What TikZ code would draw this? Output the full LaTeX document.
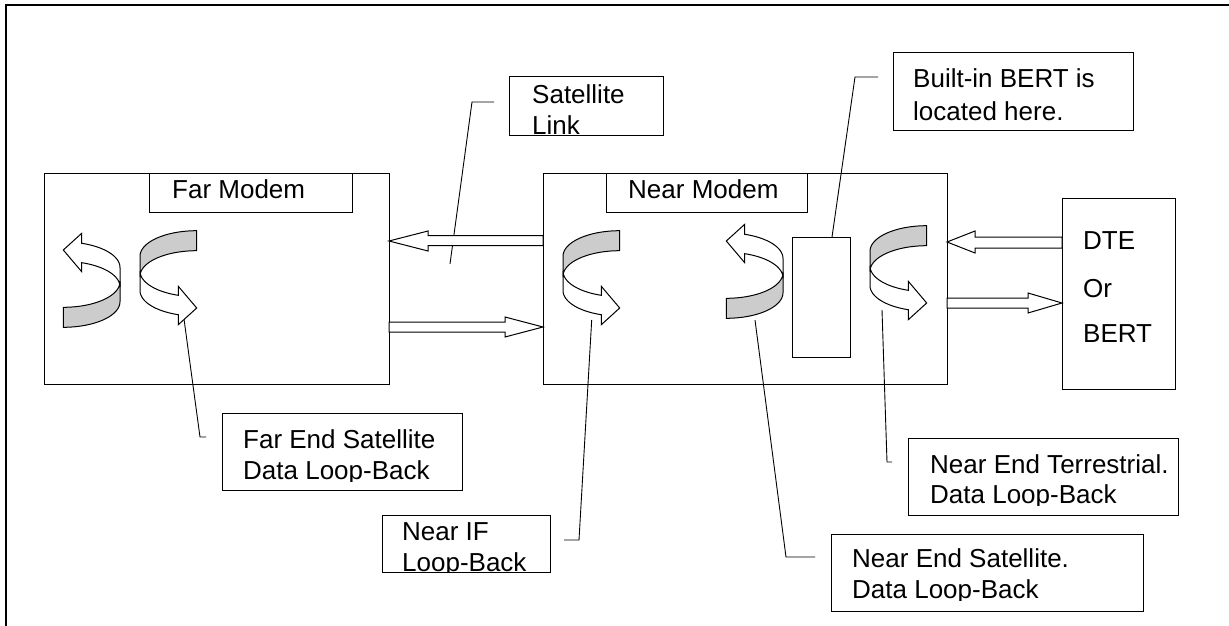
\documentclass[tikz,border=0pt]{standalone}
\usepackage{fontspec}
\setmainfont{Liberation Sans}
\definecolor{loopgray}{RGB}{204,204,204}
\begin{document}
\begin{tikzpicture}[x=1pt,y=-1pt,
  box/.style={draw, line width=1pt, inner sep=0pt, outer sep=0pt, anchor=north west},
  txt/.style={anchor=base west, inner sep=0pt, font=\fontsize{26}{31}\selectfont},
  leader/.style={line width=0.9pt},
  blockarrow/.style={draw, fill=white, line width=1pt, line join=miter},
  loopA/.pic={
    \path[fill=loopgray, draw=black, line width=1pt, line join=round]
      plot[domain=270:360, samples=30] ({23.3+56.7*cos(\x)},{61.7-25.6*sin(\x)})
      -- plot[domain=0:-90, samples=30] ({23.3+56.7*cos(\x)},{81.7-25.6*sin(\x)}) -- cycle;
    \path[fill=white, draw=black, line width=1pt, line join=miter]
      plot[domain=71.1:0, samples=30] ({23.3+56.7*cos(\x)},{47.5-25.6*sin(\x)})
      -- plot[domain=0:71.1, samples=30] ({23.3+56.7*cos(\x)},{66.9-25.6*sin(\x)})
      -- (41.7,51.7) -- (23.3,30) -- (41.7,13.3) -- cycle;
  }]
\useasboundingbox (0,0) rectangle (1229,626);
% outer frame (cropped)
\draw[line width=1.2pt] (6,626) -- (6,5) -- (1229,5);

% modem boxes
\node[box, minimum width=345, minimum height=211] (far) at (44,173) {};
\node[box, minimum width=404, minimum height=211] (near) at (543,173) {};
\node[box, minimum width=203, minimum height=39] (farlbl) at (149,173) {};
\node[box, minimum width=201, minimum height=39] (nearlbl) at (606,173) {};
\node[box, minimum width=58, minimum height=120] (bert) at (792,237) {};
\node[box, minimum width=113, minimum height=191] (dte) at (1062,198) {};

% callout boxes
\node[box, minimum width=154, minimum height=58] (sat) at (509,77) {};
\node[box, minimum width=240, minimum height=77] (built) at (893,53) {};
\node[box, minimum width=240, minimum height=77] (fesl) at (222,413) {};
\node[box, minimum width=168, minimum height=57] (nif) at (382,515) {};
\node[box, minimum width=270, minimum height=77] (netl) at (908,438) {};
\node[box, minimum width=312, minimum height=77] (nesl) at (831,534) {};

% leader lines
\coordinate (cSat) at (450,264);
\coordinate (eSat) at (494,102);
\draw[leader] (cSat) -- (472,102) -- (eSat);
\coordinate (eBuilt) at (878,77);
\draw[leader] ([xshift=11pt]bert.north) -- (855,77) -- (eBuilt);
\coordinate (cFe) at (184,319);
\coordinate (eFe) at (206,437);
\draw[leader] (cFe) -- (200,437) -- (eFe);
\coordinate (cNif) at (591.7,320);
\coordinate (eNif) at (564,540);
\draw[leader] (cNif) -- (579,540) -- (eNif);
\coordinate (cNes) at (755,320);
\coordinate (eNes) at (815,557);
\draw[leader] (cNes) -- (786,557) -- (eNes);
\coordinate (cNet) at (882,310);
\coordinate (eNet) at (892,462);
\draw[leader] (cNet) -- (887,462) -- (eNet);

% block arrows
\draw[blockarrow] (near.west |- 0,235.7) -- (428,235.7) -- (428,231) -- (far.east |- 0,241)
  -- (428,251) -- (428,245.7) -- (near.west |- 0,245.7) -- cycle;
\draw[blockarrow] (far.east |- 0,322) -- (505,322) -- (505,317) -- (near.west |- 0,327)
  -- (505,337) -- (505,332) -- (far.east |- 0,332) -- cycle;
\draw[blockarrow] (dte.west |- 0,237) -- (975,237) -- (975,231) -- (near.east |- 0,242)
  -- (975,253) -- (975,248) -- (dte.west |- 0,248) -- cycle;
\draw[blockarrow] (near.east |- 0,298) -- (1028,298) -- (1028,293) -- (dte.west |- 0,303)
  -- (1028,313) -- (1028,308) -- (near.east |- 0,308) -- cycle;

% loop-back arrows
\pic at (40,220) {loopA};
\pic[rotate=180] at (220,338) {loopA};
\pic[rotate=180] at (643,338) {loopA};
\pic at (703,211) {loopA};
\pic[rotate=180] at (950,333) {loopA};

% texts
\node[txt] (tFar) at (172,198) {Far Modem};
\node[txt] (tNear) at (628,198) {Near Modem};
\node[txt] (tD1) at (1083,249) {DTE};
\node[txt] (tD2) at (1083,297) {Or};
\node[txt] (tD3) at (1083,342) {BERT};
\node[txt] (tB1) at (913,88) {Built-in BERT is};
\node[txt] (tB2) at (913,120) {located here.};
\begin{scope}
  \clip (509,77) rectangle (663,135);
  \node[txt] (tS1) at (532,103) {Satellite};
  \node[txt] (tS2) at (532,134) {Link};
\end{scope}
\begin{scope}
  \clip (222,413) rectangle (462,481);
  \node[txt] (tF1) at (243,448) {Far End Satellite};
  \node[txt] (tF2) at (243,479) {Data Loop-Back};
\end{scope}
\begin{scope}
  \clip (382,515) rectangle (550,572);
  \node[txt] (tI1) at (402,540) {Near IF};
  \node[txt] (tI2) at (402,571) {Loop-Back};
\end{scope}
\begin{scope}
  \clip (908,438) rectangle (1178,505);
  \node[txt] (tT1) at (930,473) {Near End Terrestrial.};
  \node[txt] (tT2) at (930,503) {Data Loop-Back};
\end{scope}
\begin{scope}
  \clip (831,534) rectangle (1143,600);
  \node[txt] (tN1) at (852,567) {Near End Satellite.};
  \node[txt] (tN2) at (852,598) {Data Loop-Back};
\end{scope}
\end{tikzpicture}
\end{document}
